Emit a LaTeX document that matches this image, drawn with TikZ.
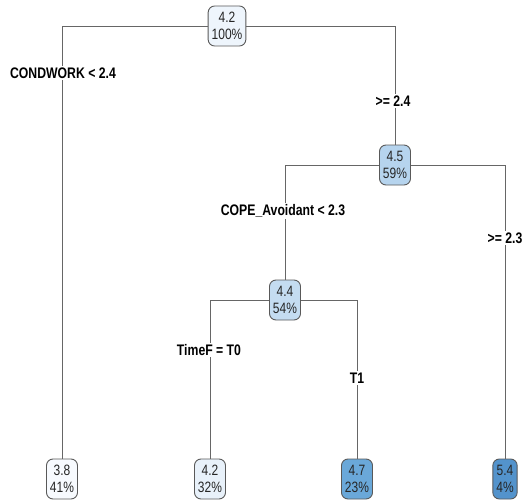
\documentclass[tikz,border=0pt]{standalone}
\usepackage{fontspec}
\setmainfont[FakeStretch=0.8]{Liberation Sans}
\begin{document}
\begin{tikzpicture}[x=1pt,y=-1pt,
  leaf/.style={draw=black!65, line width=0.9pt, rounded corners=6.5pt,
    align=center, inner xsep=3.5pt, inner ysep=1.5pt, minimum height=40pt,
    font=\fontsize{15}{17}\selectfont, text=black!85},
  split/.style={fill=white, inner sep=1.5pt, font=\bfseries\fontsize{15.3}{17}\selectfont},
  edge/.style={draw=black!60, line width=0.7pt}]
\useasboundingbox (0,0) rectangle (525,503);
\definecolor{c0}{HTML}{EEF5FC}
\definecolor{c1}{HTML}{B6D4EE}
\definecolor{c2}{HTML}{C4DCF1}
\definecolor{c3}{HTML}{F7FAFE}
\definecolor{c4}{HTML}{E8F1FA}
\definecolor{c5}{HTML}{6AA8D9}
\definecolor{c6}{HTML}{5393CC}

% tree nodes
\node[leaf, fill=c0] (root) at (227,26) {4.2\\100\%};
\node[leaf, fill=c1] (n45) at (395,165) {4.5\\59\%};
\node[leaf, fill=c2] (n44) at (285,300) {4.4\\54\%};
\node[leaf, fill=c3] (n38) at (62,479) {3.8\\41\%};
\node[leaf, fill=c4] (n42) at (210,479) {4.2\\32\%};
\node[leaf, fill=c5] (n47) at (357,479) {4.7\\23\%};
\node[leaf, fill=c6] (n54) at (505,479) {5.4\\4\%};

% branches
\draw[edge] (root) -| (n38);
\draw[edge] (root) -| (n45);
\draw[edge] (n45) -| (n44);
\draw[edge] (n45) -| (n54);
\draw[edge] (n44) -| (n42);
\draw[edge] (n44) -| (n47);

% split labels
\node[split] (s1) at (63,73) {CONDWORK < 2.4};
\node[split] (s2) at (393,101) {>= 2.4};
\node[split] (s3) at (283,211) {COPE\_Avoidant < 2.3};
\node[split] (s4) at (505,238) {>= 2.3};
\node[split] (s5) at (209,350) {TimeF = T0};
\node[split] (s6) at (357,378) {T1};
\end{tikzpicture}
\end{document}
